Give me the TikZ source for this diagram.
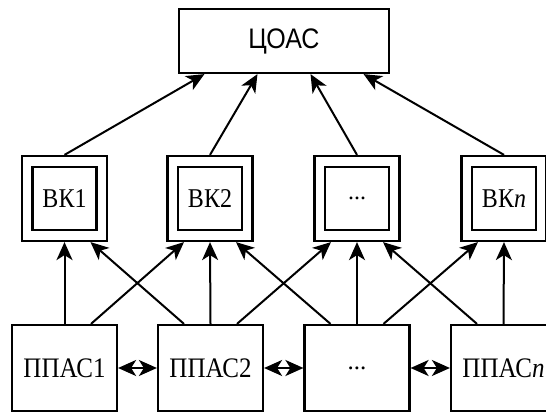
\documentclass[tikz,border=0pt]{standalone}
\usepackage{graphicx}
\usepackage{fontspec}
\setmainfont{Liberation Serif}
\newfontfamily\arialf{Liberation Sans}
\usetikzlibrary{arrows.meta,calc}
\newcommand\tallt[1]{\scalebox{1}[1.13]{#1}}
\begin{document}
\begin{tikzpicture}[x=1pt,y=1pt,
  box/.style={draw=black,line width=2.2pt,fill=white,inner sep=0pt},
  topbox/.style={box,minimum width=210pt,minimum height=64pt,font=\arialf\fontsize{25}{30}\selectfont},
  outerbox/.style={box,minimum width=85pt,minimum height=85pt},
  innerbox/.style={box,minimum width=64pt,minimum height=63pt,font=\fontsize{24}{28}\selectfont},
  srcbox/.style={box,minimum width=105pt,minimum height=86pt,font=\fontsize{25}{30}\selectfont},
  tip/.style={},
  arr/.style={line width=2pt,-{Stealth[length=18pt,width=16pt,inset=5pt]}},
  darr/.style={line width=2pt,{Stealth[length=18pt,width=16pt,inset=5pt]}-{Stealth[length=18pt,width=16pt,inset=5pt]}}
]
\useasboundingbox (0,0) rectangle (546,412);
\node[topbox] (c) at (284,371) {\tallt{ЦОАС}};
\node[outerbox] (v1) at (64.5,213.5) {};
\node[innerbox] (vi1) at (64.5,213.5) {\tallt{ВК1}};
\node[outerbox] (v2) at (210,213.5) {};
\node[innerbox] (vi2) at (210,213.5) {\tallt{ВК2}};
\node[outerbox] (v3) at (357,213.5) {};
\node[innerbox] (vi3) at (357,213.5) {...};
\node[outerbox] (v4) at (504,213.5) {};
\node[innerbox] (vi4) at (504,213.5) {\tallt{ВК\textit{n}}};
\node[srcbox] (p1) at (64.5,44) {\tallt{ППАС1}};
\node[srcbox] (p2) at (210.5,44) {\tallt{ППАС2}};
\node[srcbox] (p3) at (357,44) {...};
\node[srcbox] (p4) at (503.5,44) {\tallt{ППАС\textit{n}}};
% top arrows
\draw[arr] (v1.north) -- ($(c.south west)!0.125!(c.south east)$);
\draw[arr] (v2.north) -- ($(c.south west)!0.375!(c.south east)$);
\draw[arr] (v3.north) -- ($(c.south west)!0.625!(c.south east)$);
\draw[arr] (v4.north) -- ($(c.south west)!0.875!(c.south east)$);
% vertical arrows
\foreach \i in {1,2,3,4}{
  \draw[arr] (p\i.north) -- (v\i.south);
}
% crossing arrows
\foreach \i/\j in {1/2,2/3,3/4}{
  \draw[arr] ($(p\i.north)+(26.5,0)$) -- ($(v\j.south)+(-26,0)$);
  \draw[arr] ($(p\j.north)+(-26.5,0)$) -- ($(v\i.south)+(26,0)$);
}
% horizontal double arrows
\draw[darr] (p1.east) -- (p2.west);
\draw[darr] (p2.east) -- (p3.west);
\draw[darr] (p3.east) -- (p4.west);
\end{tikzpicture}
\end{document}
